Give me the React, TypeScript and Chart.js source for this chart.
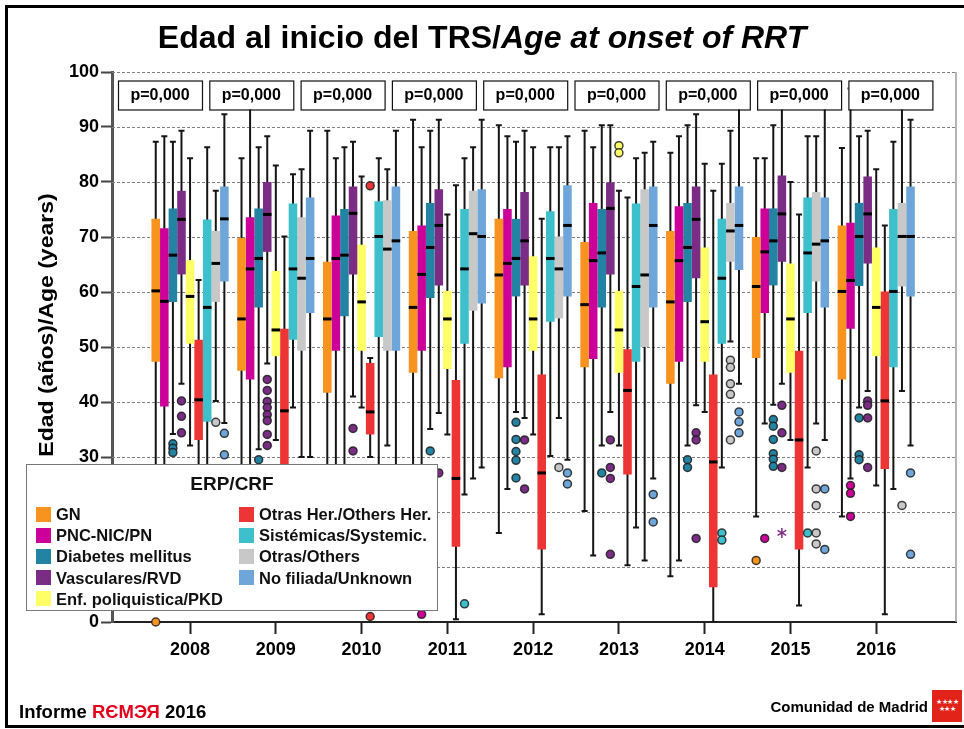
import React, { useEffect, useRef } from 'react';
import { Chart, registerables } from 'chart.js';

Chart.register(...registerables);

// ---------------- DATA ----------------
const years = [2008, 2009, 2010, 2011, 2012, 2013, 2014, 2015, 2016];
const yTicks = [0, 10, 20, 30, 40, 50, 60, 70, 80, 90, 100];
const pValues = ['p=0,000', 'p=0,000', 'p=0,000', 'p=0,000', 'p=0,000', 'p=0,000', 'p=0,000', 'p=0,000', 'p=0,000'];

const seriesNames = [
  'GN',
  'PNC-NIC/PN',
  'Diabetes mellitus',
  'Vasculares/RVD',
  'Enf. poliquistica/PKD',
  'Otras Her./Others Her.',
  'Sistémicas/Systemic.',
  'Otras/Others',
  'No filiada/Unknown',
];
const seriesColors = ['#F7931E', '#CC0099', '#2383A3', '#7B2D86', '#FFFF66', '#EE3535', '#3EC0CC', '#C8C8C8', '#6FA6D9'];

// [min, Q1, median, Q3, max] per year
const gnStats = [
  [17, 47.3, 60.2, 73.3, 87.3],
  [15, 45.7, 55.1, 69.8, 84.3],
  [12, 41.7, 55.1, 65.5, 89.3],
  [10, 45.3, 57.2, 71.1, 91.3],
  [16.2, 44.3, 63.1, 73.3, 90.3],
  [20.2, 46.3, 57.7, 69.1, 89.3],
  [8.3, 43.3, 58.2, 71.1, 85.3],
  [19.2, 48.0, 61.0, 70.0, 84.3],
  [19.2, 44.1, 60.1, 72.1, 86.2],
];
const pnStats = [
  [12, 39.2, 58.3, 71.6, 88.3],
  [12, 44.1, 64.2, 73.6, 97],
  [10, 49.3, 66.1, 73.9, 84.3],
  [8, 49.3, 63.2, 72.1, 86.3],
  [24.2, 46.3, 65.2, 75.1, 88.3],
  [12.1, 47.8, 65.7, 76.2, 86.3],
  [11.2, 47.3, 65.7, 75.6, 88.3],
  [36.1, 56.2, 67.3, 75.2, 84.3],
  [26.1, 53.3, 62.1, 72.6, 97],
];
const dmStats = [
  [34.2, 58.2, 66.7, 75.2, 87.3],
  [31.4, 57.2, 66.1, 75.2, 86.3],
  [25, 55.6, 66.7, 75.1, 86.3],
  [35.1, 58.9, 68.1, 76.2, 89.3],
  [38.2, 59.2, 66.1, 73.3, 87.3],
  [32.1, 57.2, 67.1, 75.1, 90.3],
  [32.1, 58.2, 68.1, 76.2, 90.3],
  [39.5, 61.2, 69.3, 75.2, 90.3],
  [39.0, 61.1, 70.1, 76.2, 88.3],
];
const rvdStats = [
  [43.3, 63.2, 73.2, 78.4, 89.3],
  [47, 67.3, 74.1, 80.0, 88.3],
  [41.0, 63.2, 74.3, 79.2, 87.3],
  [38.0, 61.2, 72.1, 78.7, 91.3],
  [37.1, 61.2, 69.3, 78.2, 89.3],
  [38.2, 63.2, 75.2, 79.9, 90.3],
  [39.4, 62.5, 73.2, 79.2, 92.3],
  [43.3, 65.5, 74.2, 81.2, 96],
  [42.0, 65.2, 74.2, 81.0, 89.3],
];
const pkdStats = [
  [32.1, 50.6, 59.2, 65.8, 84.3],
  [33.1, 48.3, 53.1, 63.8, 83.0],
  [39.0, 49.3, 58.2, 68.6, 81.0],
  [34.1, 46.0, 55.1, 60.2, 74.1],
  [34.1, 49.3, 55.1, 66.5, 86.3],
  [32.1, 45.3, 53.1, 60.2, 78.4],
  [38.2, 47.3, 54.6, 68.1, 83.3],
  [33.1, 45.3, 55.1, 65.2, 80.0],
  [24.8, 48.3, 57.2, 68.1, 82.3],
];
const herStats = [
  [20, 33.1, 40.4, 51.3, 62.2],
  [8, 27, 38.4, 53.3, 70.1],
  [30, 34.1, 38.2, 47.1, 48],
  [0.5, 13.7, 26.1, 44.0, 79.4],
  [1.4, 13.2, 27.1, 45.0, 73.3],
  [10.3, 26.8, 42.1, 49.6, 77.2],
  [0, 6.3, 29.1, 45.0, 78.4],
  [3.0, 13.2, 33.1, 49.3, 74.1],
  [1.4, 27.8, 40.2, 60.1, 72.1],
];
const sysStats = [
  [20, 36.4, 57.2, 73.2, 86.3],
  [39.0, 51.3, 64.2, 76.1, 81.4],
  [25, 51.8, 70.1, 76.5, 84.3],
  [23.2, 50.6, 64.2, 75.1, 84.3],
  [30.2, 54.6, 66.1, 74.7, 86.3],
  [17.2, 47.3, 61.0, 76.1, 84.3],
  [28.1, 50.6, 62.5, 73.3, 83.3],
  [28.1, 56.2, 67.1, 77.2, 88.3],
  [24.2, 46.3, 60.1, 75.1, 87.3],
];
const othStats = [
  [40.2, 58.2, 65.2, 71.1, 78.4],
  [30, 49.3, 62.5, 73.6, 82.3],
  [32.1, 49.3, 67.8, 76.7, 82.3],
  [26.1, 56.6, 70.6, 78.4, 86.3],
  [37.1, 55.2, 64.2, 70.1, 86.3],
  [11.2, 50.0, 63.1, 78.7, 85.3],
  [51.0, 65.5, 71.1, 76.2, 89.3],
  [36.1, 61.9, 68.7, 78.2, 88.3],
  [42.0, 61.0, 70.1, 76.2, 96],
];
const unkStats = [
  [36.2, 61.9, 73.3, 79.2, 92.3],
  [30, 56.2, 66.1, 77.2, 89.3],
  [28, 49.3, 69.3, 79.2, 89.3],
  [28.1, 57.9, 70.1, 78.7, 91.3],
  [29.5, 59.2, 72.1, 79.4, 88.3],
  [26.1, 57.2, 72.1, 79.2, 87.3],
  [43.3, 64.0, 72.1, 79.2, 95],
  [33.1, 57.2, 69.3, 77.2, 96],
  [32.1, 59.2, 70.1, 79.2, 91.3],
];

// outliers (circles) per year
const gnOut = [[0], [], [], [], [], [], [], [11.2], []];
const pnOut = [[], [], [], [1.4], [], [], [], [15.2], [24.8, 23.4, 19.2]];
const dmOut = [[32.4, 31.6, 30.8], [29.5], [], [31.1], [36.3, 33.2, 31.0, 29.4, 26.2], [27.1], [29.5, 28.1], [36.8, 35.6, 33.2, 30.6, 29.6, 28.3], [37.1, 30.4, 29.5]];
const rvdOut = [[40.2, 37.4, 34.4], [44.1, 42.1, 40.1, 39.0, 37.7, 36.6, 34.1, 32.1], [35.2, 31.1], [27.1], [33.1, 24.2], [33.1, 28.1, 26.1, 12.3], [34.4, 33.1, 15.2], [39.4, 34.4, 28.1], [40.2, 39.4, 37.1, 28.1]];
const pkdOut = [[], [], [], [], [], [86.6, 85.3], [], [], []];
const herOut = [[], [], [79.3, 1.0], [], [], [], [], [], []];
const sysOut = [[], [], [], [3.3], [], [], [16.2, 14.9], [16.2], []];
const othOut = [[36.3], [], [], [], [28.1], [], [47.6, 46.3, 43.3, 41.4, 33.1], [31.1, 24.2, 21.2, 16.2, 14.2], [21.2]];
const unkOut = [[34.3, 30.4], [], [], [], [27.1, 25.1], [23.2, 18.2], [38.2, 36.4, 34.4], [24.2, 13.2], [27.1, 12.3]];

// extremes (asterisks) per year
const rvdExtreme = [[], [], [], [], [], [], [], [16.2], []];

const allStats = [gnStats, pnStats, dmStats, rvdStats, pkdStats, herStats, sysStats, othStats, unkStats];
const allOutliers = [gnOut, pnOut, dmOut, rvdOut, pkdOut, herOut, sysOut, othOut, unkOut];
const noneExtreme = [[], [], [], [], [], [], [], [], []];
const allExtremes = [noneExtreme, noneExtreme, noneExtreme, rvdExtreme, noneExtreme, noneExtreme, noneExtreme, noneExtreme, noneExtreme];

// ---------------- STYLE ----------------
const FONT = '"Liberation Sans", Arial, Helvetica, sans-serif';
const X_MIN = 2007.09;
const X_MAX = 2016.93;

const boxPlotPlugin = {
  id: 'boxPlotExtras',
  beforeDatasetsDraw(chart: any) {
    const { ctx, chartArea: a, scales } = chart;
    const ys = scales.y;
    ctx.save();
    // dashed horizontal grid
    ctx.strokeStyle = '#808080';
    ctx.lineWidth = 1;
    ctx.setLineDash([3, 2]);
    yTicks.forEach((v) => {
      if (v === 0) return;
      const py = Math.round(ys.getPixelForValue(v)) + 0.5;
      ctx.beginPath();
      ctx.moveTo(a.left, py);
      ctx.lineTo(a.right, py);
      ctx.stroke();
    });
    ctx.setLineDash([]);
    // right frame
    ctx.strokeStyle = '#9a9a9a';
    ctx.lineWidth = 1.5;
    ctx.beginPath();
    ctx.moveTo(a.right, a.top);
    ctx.lineTo(a.right, a.bottom);
    ctx.stroke();
    // whiskers
    ctx.beginPath();
    ctx.rect(a.left, a.top, a.right - a.left, a.bottom - a.top);
    ctx.clip();
    ctx.strokeStyle = '#151515';
    ctx.lineWidth = 2;
    allStats.forEach((stats, di) => {
      const meta = chart.getDatasetMeta(di);
      meta.data.forEach((bar: any, i: number) => {
        const s = stats[i];
        const cx = bar.x;
        const yMin = ys.getPixelForValue(s[0]);
        const yMax = ys.getPixelForValue(s[4]);
        ctx.beginPath();
        ctx.moveTo(cx, yMin);
        ctx.lineTo(cx, yMax);
        ctx.stroke();
        ctx.beginPath();
        ctx.moveTo(cx - 3, yMin);
        ctx.lineTo(cx + 3, yMin);
        ctx.moveTo(cx - 3, yMax);
        ctx.lineTo(cx + 3, yMax);
        ctx.stroke();
      });
    });
    ctx.restore();
  },
  afterDatasetsDraw(chart: any) {
    const { ctx, chartArea: a, scales } = chart;
    const ys = scales.y;
    ctx.save();
    allStats.forEach((stats, di) => {
      const meta = chart.getDatasetMeta(di);
      meta.data.forEach((bar: any, i: number) => {
        const cx = bar.x;
        const w = bar.width;
        // median
        const ym = ys.getPixelForValue(stats[i][2]);
        ctx.strokeStyle = '#000';
        ctx.lineWidth = 3;
        ctx.beginPath();
        ctx.moveTo(cx - w / 2, ym);
        ctx.lineTo(cx + w / 2, ym);
        ctx.stroke();
        // outliers
        allOutliers[di][i].forEach((v: number) => {
          const py = ys.getPixelForValue(v);
          ctx.beginPath();
          ctx.arc(cx, py, 4, 0, Math.PI * 2);
          ctx.fillStyle = seriesColors[di];
          ctx.fill();
          ctx.lineWidth = 1.5;
          ctx.strokeStyle = 'rgba(30,30,30,0.85)';
          ctx.stroke();
        });
        // extremes (asterisk)
        allExtremes[di][i].forEach((v: number) => {
          const py = ys.getPixelForValue(v);
          ctx.strokeStyle = seriesColors[di];
          ctx.lineWidth = 1.5;
          for (let k = 0; k < 3; k++) {
            const ang = (Math.PI / 3) * k + Math.PI / 2;
            ctx.beginPath();
            ctx.moveTo(cx - 5 * Math.cos(ang), py - 5 * Math.sin(ang));
            ctx.lineTo(cx + 5 * Math.cos(ang), py + 5 * Math.sin(ang));
            ctx.stroke();
          }
        });
      });
    });
    // p-value boxes
    const boxW = 84;
    const boxH = 29;
    const step = 91.3;
    pValues.forEach((txt, k) => {
      const left = a.left + 6 + k * step;
      const top = a.top + 8.5;
      ctx.fillStyle = '#fff';
      ctx.fillRect(left, top, boxW, boxH);
      ctx.strokeStyle = '#111';
      ctx.lineWidth = 1.2;
      ctx.strokeRect(left + 0.5, top + 0.5, boxW, boxH);
      ctx.fillStyle = '#000';
      ctx.font = `bold 16px ${FONT}`;
      ctx.textAlign = 'center';
      ctx.textBaseline = 'middle';
      ctx.fillText(txt, left + boxW / 2, top + boxH / 2 + 1);
    });
    ctx.restore();
  },
};

export default function App() {
  const canvasRef = useRef<HTMLCanvasElement>(null);

  useEffect(() => {
    const datasets = seriesNames.map((name, di) => ({
      label: name,
      data: years.map((yr, i) => ({ x: yr, y: [allStats[di][i][1], allStats[di][i][3]] })),
      backgroundColor: seriesColors[di],
      borderWidth: 0,
      categoryPercentage: 0.9,
      barPercentage: 1.0,
    }));

    const chart = new Chart(canvasRef.current as HTMLCanvasElement, {
      type: 'bar',
      data: { datasets } as any,
      options: {
        animation: false,
        responsive: false,
        maintainAspectRatio: false,
        devicePixelRatio: 1,
        layout: { padding: { top: 72, right: 8, bottom: 0, left: 0 } },
        plugins: {
          legend: { display: false },
          tooltip: { enabled: false },
          title: { display: false },
        },
        scales: {
          x: {
            type: 'linear',
            min: X_MIN,
            max: X_MAX,
            offset: false,
            afterBuildTicks: (s: any) => {
              s.ticks = years.map((v) => ({ value: v }));
            },
            afterFit: (s: any) => {
              s.height = 107;
            },
            grid: { display: true, offset: false, drawOnChartArea: false, drawTicks: true, tickLength: 12, tickColor: '#222', tickWidth: 2 },
            border: { display: true, color: '#222', width: 2 },
            ticks: {
              autoSkip: false,
              maxRotation: 0,
              padding: 5,
              color: '#000',
              font: { family: FONT, size: 18, weight: 'bold' },
              callback: (v: any) => String(v),
            },
          },
          y: {
            type: 'linear',
            min: 0,
            max: 100,
            afterBuildTicks: (s: any) => {
              s.ticks = yTicks.map((v) => ({ value: v }));
            },
            afterFit: (s: any) => {
              s.width = 112;
            },
            grid: { display: true, drawOnChartArea: false, drawTicks: true, tickLength: 11, tickColor: '#444', tickWidth: 2 },
            border: { display: true, color: '#555', width: 3 },
            ticks: {
              padding: 2,
              color: '#000',
              font: { family: FONT, size: 18, weight: 'bold' },
            },
          },
        },
      } as any,
      plugins: [boxPlotPlugin],
    });
    return () => chart.destroy();
  }, []);

  const legendCol1 = [0, 1, 2, 3, 4];
  const legendCol2 = [5, 6, 7, 8];
  const rowTop = (r: number) => 49 + r * 21.2;

  const legendItem = (di: number, r: number, swX: number, txX: number) => (
    <React.Fragment key={di}>
      <div
        style={{
          position: 'absolute',
          left: swX,
          top: rowTop(r) - 7.5,
          width: 15,
          height: 15,
          background: seriesColors[di],
        }}
      />
      <div
        style={{
          position: 'absolute',
          left: txX,
          top: rowTop(r) - 10,
          height: 20,
          lineHeight: '20px',
          fontSize: 16.5,
          fontWeight: 'bold',
          color: '#111',
          whiteSpace: 'nowrap',
        }}
      >
        {seriesNames[di]}
      </div>
    </React.Fragment>
  );

  return (
    <div
      style={{
        position: 'absolute',
        left: 0,
        top: 0,
        width: 964,
        height: 729,
        overflow: 'hidden',
        background: '#fff',
        fontFamily: FONT,
      }}
    >
      <canvas
        ref={canvasRef}
        width={964}
        height={729}
        style={{ position: 'absolute', left: 0, top: 0, width: 964, height: 729 }}
      />
      {/* outer frame */}
      <div
        style={{
          position: 'absolute',
          left: 5,
          top: 5,
          width: 970,
          height: 723,
          boxSizing: 'border-box',
          border: '3px solid #000',
          pointerEvents: 'none',
        }}
      />
      {/* title */}
      <div
        style={{
          position: 'absolute',
          left: 0,
          top: 19,
          width: 964,
          textAlign: 'center',
          fontSize: 32,
          lineHeight: '36px',
          fontWeight: 'bold',
          color: '#000',
          whiteSpace: 'nowrap',
        }}
      >
        Edad al inicio del TRS/<span style={{ fontStyle: 'italic' }}>Age at onset of RRT</span>
      </div>
      {/* y axis title */}
      <div
        style={{
          position: 'absolute',
          left: 46 - 160,
          top: 325 - 12,
          width: 320,
          height: 24,
          lineHeight: '24px',
          textAlign: 'center',
          fontSize: 20,
          fontWeight: 'bold',
          color: '#000',
          transform: 'rotate(-90deg) scaleX(1.15)',
          transformOrigin: '50% 50%',
          whiteSpace: 'nowrap',
        }}
      >
        Edad (años)/Age (years)
      </div>
      {/* legend */}
      <div
        style={{
          position: 'absolute',
          left: 26,
          top: 464,
          width: 412,
          height: 147,
          boxSizing: 'border-box',
          border: '1px solid #777',
          background: '#fff',
        }}
      >
        <div
          style={{
            position: 'absolute',
            left: 0,
            top: 8,
            width: '100%',
            textAlign: 'center',
            fontSize: 19,
            lineHeight: '22px',
            fontWeight: 'bold',
            color: '#111',
          }}
        >
          ERP/CRF
        </div>
        {legendCol1.map((di, r) => legendItem(di, r, 9, 29))}
        {legendCol2.map((di, r) => legendItem(di, r, 212, 232))}
      </div>
      {/* footer */}
      <div
        style={{
          position: 'absolute',
          left: 19,
          top: 703,
          fontSize: 18.5,
          lineHeight: '18.5px',
          fontWeight: 'bold',
          color: '#000',
          whiteSpace: 'nowrap',
        }}
      >
        Informe <span style={{ color: '#E2001A' }}>RЄМЭЯ</span> 2016
      </div>
      <div
        style={{
          position: 'absolute',
          right: 36,
          top: 699,
          fontSize: 15,
          lineHeight: '15px',
          fontWeight: 'bold',
          color: '#000',
          whiteSpace: 'nowrap',
        }}
      >
        Comunidad de Madrid
      </div>
      <div
        style={{
          position: 'absolute',
          left: 932,
          top: 690,
          width: 30,
          height: 32,
          background: '#E2231A',
          color: '#fff',
          fontSize: 7,
          lineHeight: '7px',
          textAlign: 'center',
          paddingTop: 8,
          boxSizing: 'border-box',
          letterSpacing: -0.5,
        }}
      >
        ★★★★
        <br />
        ★★★
      </div>
    </div>
  );
}
